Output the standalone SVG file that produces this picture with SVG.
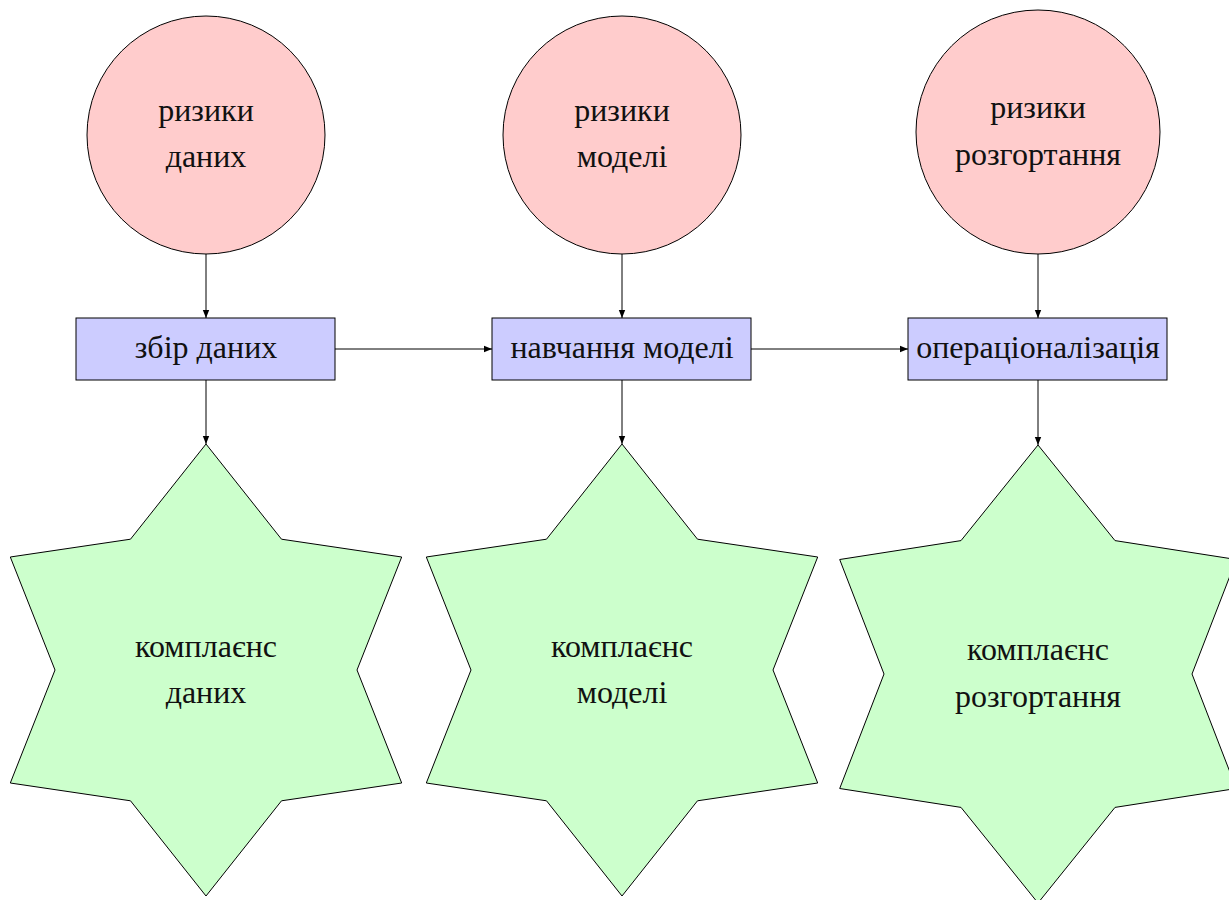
<svg xmlns="http://www.w3.org/2000/svg" width="1229" height="900" viewBox="0 0 1229 900">
  <style>
    .risk { fill: #ffcccc; stroke: #000; stroke-width: 1; }
    .stage { fill: #ccccff; stroke: #000; stroke-width: 1; }
    .comp { fill: #ccffcc; stroke: #000; stroke-width: 1; }
    .edge { fill: none; stroke: #000; stroke-width: 1; marker-end: url(#tip); }
    text { font-family: "Liberation Serif", "DejaVu Serif", serif; font-size: 32px; fill: #111; text-anchor: middle; }
  </style>
  <defs>
    <marker id="tip" viewBox="0 0 10 10" refX="10" refY="5" markerWidth="8" markerHeight="8" markerUnits="userSpaceOnUse" orient="auto">
      <path d="M0,1 L10,5 L0,9 Z" fill="#000"/>
    </marker>
  </defs>

  <!-- risk circles -->
  <g id="risk-data">
    <circle class="risk" cx="206" cy="135" r="119"/>
    <text x="206" y="121">ризики</text>
    <text x="206" y="167">даних</text>
  </g>
  <g id="risk-model">
    <circle class="risk" cx="622" cy="135" r="119"/>
    <text x="622" y="121">ризики</text>
    <text x="622" y="167">моделі</text>
  </g>
  <g id="risk-deploy">
    <circle class="risk" cx="1038" cy="132" r="122"/>
    <text x="1038" y="118">ризики</text>
    <text x="1038" y="165">розгортання</text>
  </g>

  <!-- pipeline stages -->
  <g id="stage-data">
    <rect class="stage" x="76" y="318" width="259" height="62"/>
    <text x="206" y="358">збір даних</text>
  </g>
  <g id="stage-model">
    <rect class="stage" x="492" y="318" width="259" height="62"/>
    <text x="622" y="358">навчання моделі</text>
  </g>
  <g id="stage-deploy">
    <rect class="stage" x="908" y="318" width="259" height="62"/>
    <text x="1038" y="358">операціоналізація</text>
  </g>

  <!-- compliance stars (six-pointed) -->
  <g id="comp-data">
    <polygon class="comp" points="206,444 281.5,539.2 401.7,557 357,670 401.7,783 281.5,800.8 206,896 130.5,800.8 10.3,783 55,670 10.3,557 130.5,539.2"/>
    <text x="206" y="657">комплаєнс</text>
    <text x="206" y="703">даних</text>
  </g>
  <g id="comp-model">
    <polygon class="comp" points="622,444 697.5,539.2 817.7,557 773,670 817.7,783 697.5,800.8 622,896 546.5,800.8 426.3,783 471,670 426.3,557 546.5,539.2"/>
    <text x="622" y="657">комплаєнс</text>
    <text x="622" y="703">моделі</text>
  </g>
  <g id="comp-deploy">
    <polygon class="comp" points="1038,445 1115,540.6 1236.3,559.5 1192,674 1236.3,788.5 1115,807.4 1038,903 961,807.4 839.7,788.5 884,674 839.7,559.5 961,540.6"/>
    <text x="1038" y="660">комплаєнс</text>
    <text x="1038" y="707">розгортання</text>
  </g>

  <!-- connectors -->
  <g id="connectors">
    <line class="edge" x1="206" y1="254" x2="206" y2="318"/>
    <line class="edge" x1="622" y1="254" x2="622" y2="318"/>
    <line class="edge" x1="1038" y1="254" x2="1038" y2="318"/>
    <line class="edge" x1="206" y1="380" x2="206" y2="444"/>
    <line class="edge" x1="622" y1="380" x2="622" y2="444"/>
    <line class="edge" x1="1038" y1="380" x2="1038" y2="445"/>
    <line class="edge" x1="335" y1="349" x2="492" y2="349"/>
    <line class="edge" x1="751" y1="349" x2="908" y2="349"/>
  </g>
</svg>
